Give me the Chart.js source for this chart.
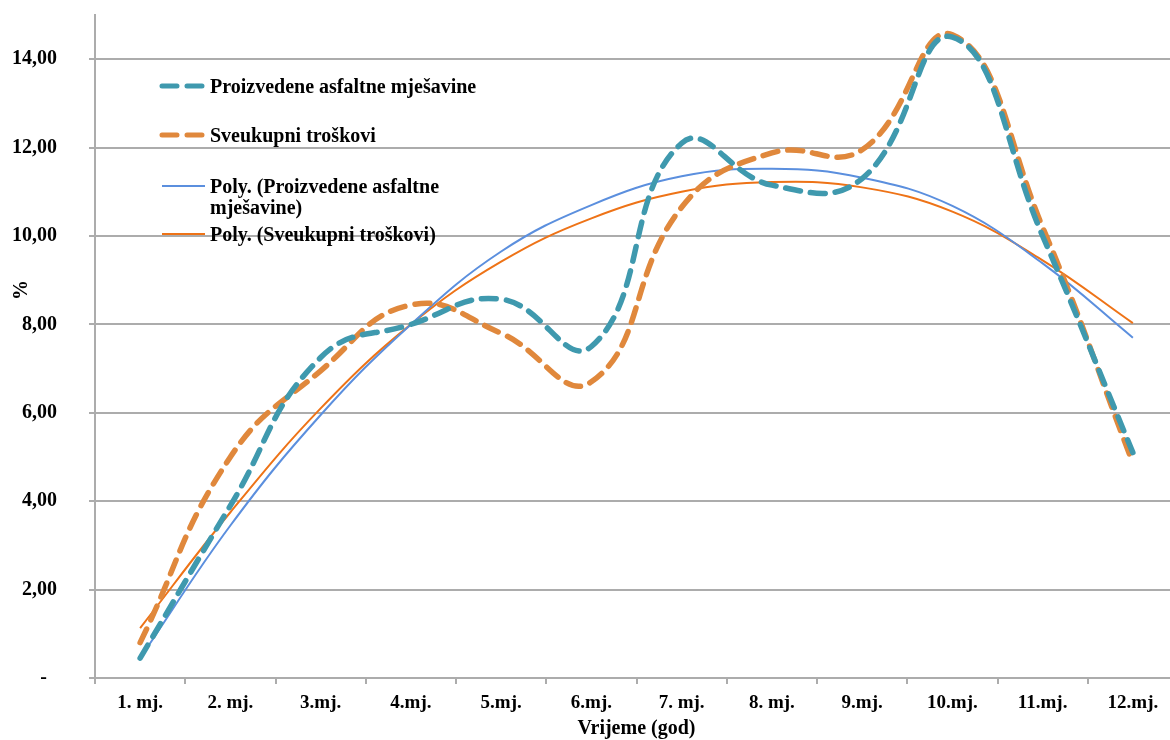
<!DOCTYPE html>
<html>
<head>
<meta charset="utf-8">
<script src="https://cdn.jsdelivr.net/npm/chart.js@4.4.1/dist/chart.umd.min.js"></script>
<style>
  html, body { margin: 0; padding: 0; background: #fff; overflow: hidden; }
  #wrap { position: absolute; left: 0; top: 0; width: 1180px; height: 740px; }
</style>
</head>
<body>
<div id="wrap"><canvas id="chart"></canvas></div>
<script>
// categories (months)
const months = ['1. mj.', '2. mj.', '3.mj.', '4.mj.', '5.mj.', '6.mj.', '7. mj.', '8. mj.', '9.mj.', '10.mj.', '11.mj.', '12.mj.'];

// series values (%)
const asfaltne = [0.45, 3.9, 7.25, 8.0, 8.57, 7.5, 12.1, 11.15, 11.3, 14.5, 10.0, 5.1];
const troskovi = [0.8, 5.0, 6.95, 8.44, 7.8, 6.7, 10.65, 11.88, 11.95, 14.55, 10.2, 4.86];

// polynomial trend lines at each month
const polyAsfaltne = [0.45, 3.45, 5.95, 8.0, 9.65, 10.7, 11.35, 11.52, 11.32, 10.68, 9.38, 7.7];
const polyTroskovi = [1.13, 3.75, 6.1, 8.0, 9.42, 10.4, 11.0, 11.22, 11.1, 10.55, 9.45, 8.03];

// y tick values
const yTicks = [0, 2, 4, 6, 8, 10, 12, 14];

const serif = '"Liberation Serif", "Times New Roman", serif';
const gridGray = '#acacac';

const legendItems = [
  { lines: ['Proizvedene asfaltne mješavine'], color: '#3f99ae', dashed: true, y: 86 },
  { lines: ['Sveukupni troškovi'], color: '#e0883c', dashed: true, y: 135 },
  { lines: ['Poly. (Proizvedene asfaltne', 'mješavine)'], color: '#5b8fde', dashed: false, y: 186 },
  { lines: ['Poly. (Sveukupni troškovi)'], color: '#ee7317', dashed: false, y: 234 }
];

const overlay = {
  id: 'overlay',
  afterDraw(chart) {
    const ctx = chart.ctx;
    ctx.save();
    // legend inside plot
    legendItems.forEach(item => {
      ctx.beginPath();
      ctx.strokeStyle = item.color;
      if (item.dashed) {
        ctx.lineWidth = 5;
        ctx.lineCap = 'round';
        ctx.setLineDash([15, 10]);
        ctx.moveTo(162, item.y);
        ctx.lineTo(204, item.y);
      } else {
        ctx.lineWidth = 2;
        ctx.lineCap = 'butt';
        ctx.setLineDash([]);
        ctx.moveTo(162, item.y);
        ctx.lineTo(205, item.y);
      }
      ctx.stroke();
      ctx.setLineDash([]);
      ctx.fillStyle = '#000';
      ctx.font = 'bold 20px ' + serif;
      ctx.textAlign = 'left';
      ctx.textBaseline = 'middle';
      item.lines.forEach((t, i) => ctx.fillText(t, 210, item.y + 2 + i * 21));
    });
    // axis titles
    ctx.font = 'bold 20px ' + serif;
    ctx.textAlign = 'center';
    ctx.textBaseline = 'middle';
    const a = chart.chartArea;
    ctx.fillText('Vrijeme (god)', (a.left + a.right) / 2, 729);
    ctx.translate(22, 290);
    ctx.rotate(-Math.PI / 2);
    ctx.fillText('%', 0, 0);
    ctx.restore();
  }
};

new Chart(document.getElementById('chart'), {
  type: 'line',
  data: {
    labels: months,
    datasets: [
      {
        label: 'Proizvedene asfaltne mješavine',
        data: asfaltne,
        borderColor: '#3f99ae',
        borderWidth: 5.5,
        borderDash: [15, 10],
        borderCapStyle: 'round',
        tension: 0.45,
        pointRadius: 0
      },
      {
        label: 'Sveukupni troškovi',
        data: troskovi,
        borderColor: '#e0883c',
        borderWidth: 5.5,
        borderDash: [15, 10],
        borderCapStyle: 'round',
        tension: 0.45,
        pointRadius: 0
      },
      {
        label: 'Poly. (Proizvedene asfaltne mješavine)',
        data: polyAsfaltne,
        borderColor: '#5b8fde',
        borderWidth: 2,
        tension: 0.4,
        pointRadius: 0
      },
      {
        label: 'Poly. (Sveukupni troškovi)',
        data: polyTroskovi,
        borderColor: '#ee7317',
        borderWidth: 2,
        tension: 0.4,
        pointRadius: 0
      }
    ]
  },
  options: {
    responsive: true,
    maintainAspectRatio: false,
    animation: false,
    layout: { padding: { top: 15, right: 2, left: 0, bottom: 0 } },
    plugins: {
      legend: { display: false },
      tooltip: { enabled: false }
    },
    scales: {
      x: {
        offset: true,
        grid: {
          offset: true,
          drawOnChartArea: false,
          drawTicks: true,
          tickLength: 6,
          color: gridGray,
          lineWidth: 2
        },
        border: { color: gridGray, width: 2 },
        ticks: {
          color: '#000',
          padding: 8,
          maxRotation: 0,
          autoSkip: false,
          font: { family: serif, size: 19, weight: 'bold' }
        },
        afterFit(scale) {
          scale.height = 62;
          scale.paddingLeft = 0;
          scale.paddingRight = 0;
        }
      },
      y: {
        min: 0,
        max: 15,
        afterBuildTicks(scale) {
          scale.ticks = yTicks.map(v => ({ value: v }));
        },
        grid: {
          color: gridGray,
          lineWidth: 2,
          drawTicks: true,
          tickLength: 6
        },
        border: { color: gridGray, width: 2 },
        ticks: {
          color: '#000',
          padding: 32,
          font: { family: serif, size: 20, weight: 'bold' },
          callback: v => v === 0 ? '-  ' : v.toFixed(2).replace('.', ',')
        },
        afterFit(scale) {
          scale.width = 95;
          scale.paddingTop = 0;
          scale.paddingBottom = 0;
        }
      }
    }
  },
  plugins: [overlay]
});
</script>
</body>
</html>
